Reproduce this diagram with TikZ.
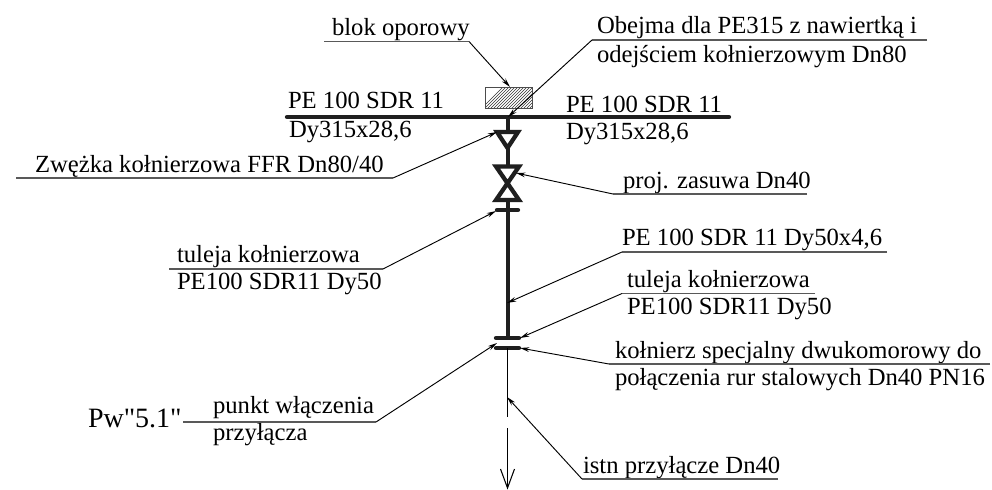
\documentclass[tikz,border=0pt]{standalone}
\usepackage{fontspec}
\setmainfont{Liberation Serif}
\newfontfamily\qfont{Liberation Serif}
\usetikzlibrary{arrows.meta}
\tikzset{
  lbl/.style={inner sep=0pt,outer sep=0pt,font=\fontsize{18.5pt}{21pt}\selectfont,text=black,anchor=base west},
  under/.style={draw=black!65,line width=1pt},
  lead/.style={draw=black,line width=0.7pt,-{Stealth[length=7pt,width=3.5pt]}},
  pipe/.style={draw=black!88,line width=3pt},
  pipem/.style={draw=black!88,line width=3.2pt,line cap=round,line join=miter},
  thin/.style={draw=black,line width=0.8pt}
}
\begin{document}
\begin{tikzpicture}[x=0.75pt,y=-0.75pt]
\useasboundingbox (0,0) rectangle (992,489);
\fill[white] (0,0) rectangle (992,489);
% block
\coordinate (blockNW) at (485,87);
\coordinate (blockSE) at (532,108);
\begin{scope}
\clip (blockNW) rectangle (blockSE);
\foreach \i in {0,3,...,72} {\draw[black!80,line width=0.45pt] (478+\i,112) -- (478+\i+30,82);}
\end{scope}
\draw[black!70,line width=0.7pt] (blockNW) rectangle (blockSE);
% pipes
\coordinate (mainL) at (287,117);
\coordinate (mainR) at (729,117);
\coordinate (tee) at (507.5,117);
\draw[pipe,line width=3.2pt,line cap=round] (mainL) -- (mainR);
\coordinate (redT) at (507.5,131);
\coordinate (redB) at (507.5,148);
\coordinate (valT) at (507.5,166);
\coordinate (valB) at (507.5,200);
\coordinate (flTop) at (507.5,338);
\coordinate (flBot) at (507.5,348);
\draw[pipe] (tee) -- (redT);
\draw[pipem] (497,132) -- (518,132) -- (redB) -- cycle;
\draw[pipe] (redB) -- (valT);
\draw[pipem] (496,166.5) -- (519,166.5) -- (496,200) -- (519,200) -- cycle;
\draw[pipe] (valB) -- (flTop);
\draw[pipem] (497,210) -- (518,210);
\draw[pipem] (496,338) -- (519,338);
\draw[pipem] (496,348) -- (519,348);
% thin existing line
\coordinate (gapT) at (507.5,417);
\coordinate (gapB) at (507.5,428);
\coordinate (tip) at (507.5,488);
\draw[thin] (flBot) -- (gapT);
\draw[thin] (gapB) -- (tip);
\coordinate (arrL) at (500.5,469);
\coordinate (arrR) at (514.5,469);
\draw[thin] (arrL) -- (tip) -- (arrR);
% labels and leaders
\node[lbl] (t1) at (332,35) {blok oporowy};
\coordinate (a1) at (324,41.5); \coordinate (b1) at (469,41.5); \coordinate (c1) at (510,87);
\draw[under] (a1) -- (b1); \draw[lead] (b1) -- (c1);

\node[lbl] (t2a) at (597,33) {Obejma dla PE315 z nawiertką i};
\node[lbl] (t2b) at (597,62) {odejściem kołnierzowym Dn80};
\coordinate (a2) at (927,40); \coordinate (b2) at (592,40); \coordinate (c2) at (508,117);
\draw[under] (a2) -- (b2); \draw[lead] (b2) -- (c2);

\node[lbl] (t3a) at (288,108) {PE 100 SDR 11};
\node[lbl] (t3b) at (289,137) {Dy315x28,6};
\node[lbl] (t4a) at (566,112) {PE 100 SDR 11};
\node[lbl] (t4b) at (566,139) {Dy315x28,6};

\node[lbl] (t5) at (35,172) {Zwężka kołnierzowa FFR Dn80/40};
\coordinate (a5) at (16,178); \coordinate (b5) at (393,178); \coordinate (c5) at (497,132);
\draw[under] (a5) -- (b5); \draw[lead] (b5) -- (c5);

\node[lbl] (t6) at (623,188) {proj. zasuwa Dn40};
\coordinate (a6) at (807,194); \coordinate (b6) at (613,194); \coordinate (c6) at (516,173);
\draw[under] (a6) -- (b6); \draw[lead] (b6) -- (c6);

\node[lbl] (t7a) at (177,262) {tuleja kołnierzowa};
\node[lbl] (t7b) at (177,289) {PE100 SDR11 Dy50};
\coordinate (a7) at (169,269); \coordinate (b7) at (383,269); \coordinate (c7) at (496,211);
\draw[under] (a7) -- (b7); \draw[lead] (b7) -- (c7);

\node[lbl] (t8) at (622,245) {PE 100 SDR 11 Dy50x4,6};
\coordinate (a8) at (887,252); \coordinate (b8) at (622,252); \coordinate (c8) at (507,303);
\draw[under] (a8) -- (b8); \draw[lead] (b8) -- (c8);

\node[lbl] (t9a) at (627,287) {tuleja kołnierzowa};
\node[lbl] (t9b) at (627,314) {PE100 SDR11 Dy50};
\coordinate (a9) at (815,293.5); \coordinate (b9) at (622,293.5); \coordinate (c9) at (520,338);
\draw[under] (a9) -- (b9); \draw[lead] (b9) -- (c9);

\node[lbl] (t10a) at (615,358) {kołnierz specjalny dwukomorowy do};
\node[lbl] (t10b) at (615,385) {połączenia rur stalowych Dn40 PN16};
\coordinate (a10) at (990,364); \coordinate (b10) at (609,364); \coordinate (c10) at (520,348);
\draw[under] (a10) -- (b10); \draw[lead] (b10) -- (c10);

\node[lbl,font=\qfont\fontsize{21pt}{22pt}\selectfont] (t11) at (88,427) {Pw"5.1"};
\node[lbl] (t11a) at (213,413) {punkt włączenia};
\node[lbl] (t11b) at (213,440) {przyłącza};
\coordinate (a11) at (183,422); \coordinate (b11) at (376,422); \coordinate (c11) at (497,343);
\draw[under] (a11) -- (b11); \draw[lead] (b11) -- (c11);

\node[lbl] (t12) at (583,473) {istn przyłącze Dn40};
\coordinate (a12) at (778,479); \coordinate (b12) at (582,479); \coordinate (c12) at (507,397);
\draw[under] (a12) -- (b12); \draw[lead] (b12) -- (c12);
\end{tikzpicture}
\end{document}
